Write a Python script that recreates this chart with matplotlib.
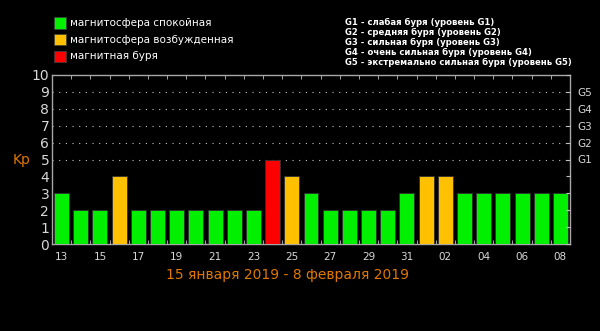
import numpy as np
import matplotlib.pyplot as plt
from matplotlib.patches import Rectangle
from matplotlib.ticker import FixedLocator

# Kp-индекс по дням, 13 января - 8 февраля 2019
days = ["13", "14", "15", "16", "17", "18", "19", "20", "21", "22", "23", "24", "25", "26",
        "27", "28", "29", "30", "31", "01", "02", "03", "04", "05", "06", "07", "08"]
kp = [3, 2, 2, 4, 2, 2, 2, 2, 2, 2, 2, 5, 4, 3,
      2, 2, 2, 2, 3, 4, 4, 3, 3, 3, 3, 3, 3]

storm_levels = ["G1", "G2", "G3", "G4", "G5"]
storm_kp = [5, 6, 7, 8, 9]

legend_left = ["магнитосфера спокойная", "магнитосфера возбужденная", "магнитная буря"]
legend_right = ["G1 - слабая буря (уровень G1)",
                "G2 - средняя буря (уровень G2)",
                "G3 - сильная буря (уровень G3)",
                "G4 - очень сильная буря (уровень G4)",
                "G5 - экстремально сильная буря (уровень G5)"]

GREEN = "#00F000"
ORANGE = "#FFC000"
RED = "#FF0000"
GRID = "#C8C8C8"
TEXT = "#D8D8D8"
ACCENT = "#E07800"

def kp_color(v):
    if v >= 5:
        return RED
    if v == 4:
        return ORANGE
    return GREEN

plt.rcParams['font.family'] = ['DejaVu Sans']

fig = plt.figure(figsize=(6, 3.31), dpi=100, facecolor="black")
ax = fig.add_axes([52 / 600, 1 - 244 / 331, 518 / 600, 169 / 331], facecolor="black")

x = np.arange(len(days))
ax.bar(x, kp, width=0.78, color=[kp_color(v) for v in kp],
       edgecolor="#303030", linewidth=0.6, zorder=3)

ax.set_xlim(-0.5, len(days) - 0.5)
ax.set_ylim(0, 10)

for s in ax.spines.values():
    s.set_color("#A8A8A8")
    s.set_linewidth(1.0)

# пунктир на уровнях бурь
for lv in storm_kp:
    ax.axhline(lv, color=GRID, linestyle=(0, (1, 5)), linewidth=0.8, zorder=1)

# подписи дней через один
ax.set_xticks(x[::2])
ax.set_xticklabels(days[::2], color=TEXT, fontsize=7.5)
ax.tick_params(axis="x", which="major", length=0, pad=6)
ax.xaxis.set_minor_locator(FixedLocator(x[:-1] + 0.5))
ax.tick_params(axis="x", which="minor", direction="in", length=3, color="#C0C0C0",
               top=True, bottom=True)

ax.set_yticks(range(11))
ax.set_yticklabels([str(i) for i in range(11)], color=TEXT, fontsize=10)
ax.tick_params(axis="y", length=0, pad=2)

axr = ax.twinx()
axr.set_ylim(0, 10)
axr.set_yticks(range(11))
axr.set_yticklabels(["" if i not in storm_kp else storm_levels[storm_kp.index(i)]
                     for i in range(11)], color=TEXT, fontsize=7.5)
axr.tick_params(axis="y", direction="in", length=3, color="#C0C0C0", pad=5)
for s in axr.spines.values():
    s.set_visible(False)

fig.text(22 / 600, 1 - 160 / 331, "Kp", color=ACCENT, fontsize=10, ha="center", va="center")
fig.text(288 / 600, 1 - 275 / 331, "15 января 2019 - 8 февраля 2019",
         color=ACCENT, fontsize=10, ha="center", va="center")

# легенда слева
for i, (label, col) in enumerate(zip(legend_left, [GREEN, ORANGE, RED])):
    yc = 23 + i * 16.7
    fig.patches.append(Rectangle((54 / 600, 1 - (yc + 5.5) / 331), 12 / 600, 11 / 331,
                                 transform=fig.transFigure, facecolor=col,
                                 edgecolor="#404040", linewidth=0.5))
    fig.text(70 / 600, 1 - yc / 331, label, color="white", fontsize=7.5,
             ha="left", va="center")

# легенда справа
for i, label in enumerate(legend_right):
    yc = 22 + i * 10
    fig.text(345 / 600, 1 - yc / 331, label, color="white", fontsize=6.1,
             ha="left", va="center", fontweight="bold")

fig.savefig("out.png", dpi=100, facecolor="black")
